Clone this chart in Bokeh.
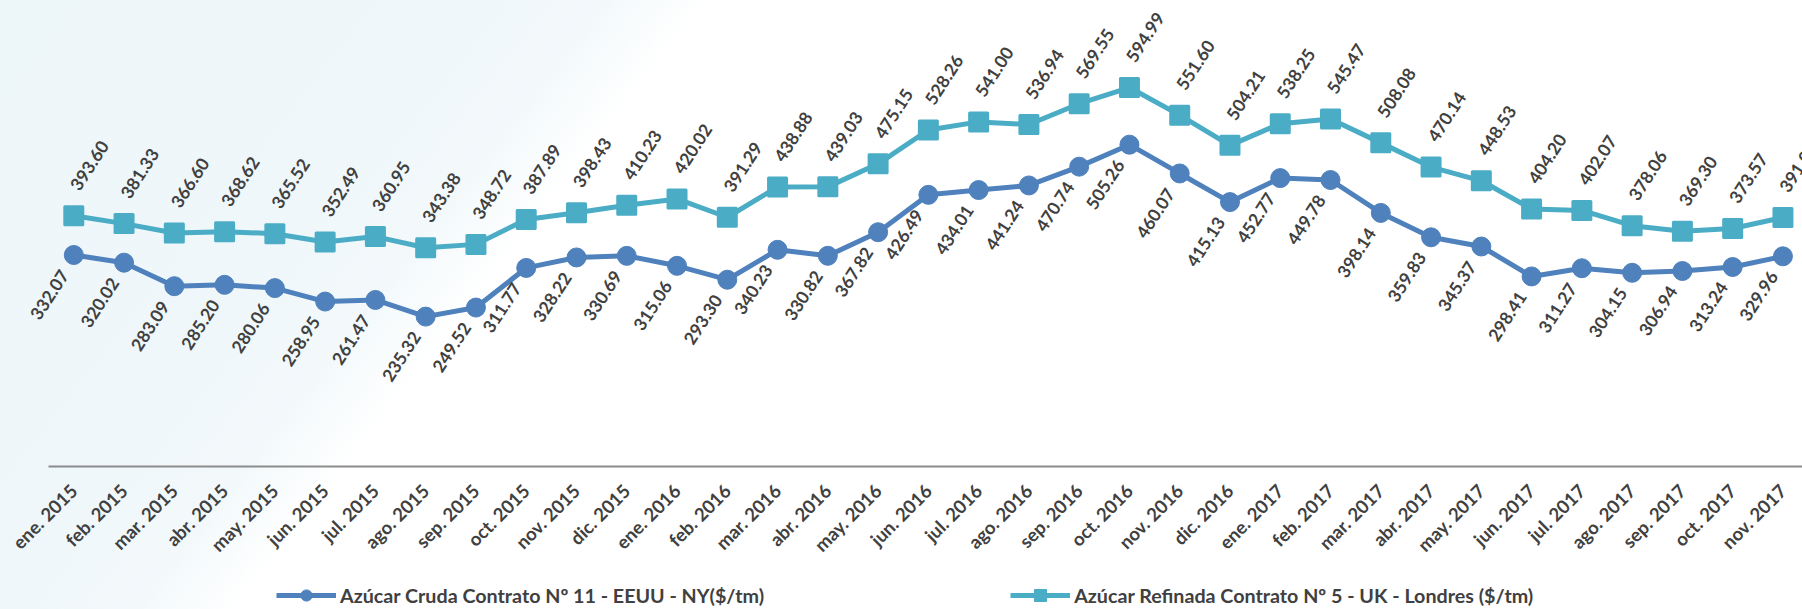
import math
from bokeh.plotting import figure
from bokeh.layouts import column
from bokeh.models import Range1d, FixedTicker, Legend, LegendItem, ColumnDataSource
from bokeh.core.properties import value
from bokeh.embed import file_html
from bokeh.resources import INLINE

months = ["ene. 2015", "feb. 2015", "mar. 2015", "abr. 2015", "may. 2015", "jun. 2015",
          "jul. 2015", "ago. 2015", "sep. 2015", "oct. 2015", "nov. 2015", "dic. 2015",
          "ene. 2016", "feb. 2016", "mar. 2016", "abr. 2016", "may. 2016", "jun. 2016",
          "jul. 2016", "ago. 2016", "sep. 2016", "oct. 2016", "nov. 2016", "dic. 2016",
          "ene. 2017", "feb. 2017", "mar. 2017", "abr. 2017", "may. 2017", "jun. 2017",
          "jul. 2017", "ago. 2017", "sep. 2017", "oct. 2017", "nov. 2017"]

cruda = [332.07, 320.02, 283.09, 285.20, 280.06, 258.95, 261.47, 235.32, 249.52, 311.77,
         328.22, 330.69, 315.06, 293.30, 340.23, 330.82, 367.82, 426.49, 434.01, 441.24,
         470.74, 505.26, 460.07, 415.13, 452.77, 449.78, 398.14, 359.83, 345.37, 298.41,
         311.27, 304.15, 306.94, 313.24, 329.96]

refinada = [393.60, 381.33, 366.60, 368.62, 365.52, 352.49, 360.95, 343.38, 348.72, 387.89,
            398.43, 410.23, 420.02, 391.29, 438.88, 439.03, 475.15, 528.26, 541.00, 536.94,
            569.55, 594.99, 551.60, 504.21, 538.25, 545.47, 508.08, 470.14, 448.53, 404.20,
            402.07, 378.06, 369.30, 373.57, 391.03]

name_cruda = "Azúcar Cruda Contrato Nº 11 - EEUU - NY($/tm)"
name_refinada = "Azúcar Refinada Contrato Nº 5 - UK - Londres ($/tm)"

C_CRUDA = "#4F81BD"
C_REF = "#4BACC6"
TXT = "#404040"
FONT = "Lato"

# plot geometry
W = 1802
FRAME_H = 466
X0, X1 = -1.458, 34.389
Y1 = 731.6
PX_X = W / (X1 - X0)       # pixels per category
PX_Y = FRAME_H / Y1        # pixels per $/tm

idx = list(range(len(months)))

# label anchors: data position shifted by a fixed pixel distance
r_lx = [i + 16 / PX_X for i in idx]
r_ly = [v + 50 / PX_Y for v in refinada]
c_lx = [i - 24 / PX_X for i in idx]
c_ly = [v - 40 / PX_Y for v in cruda]

src_c = ColumnDataSource(dict(x=idx, y=cruda, lx=c_lx, ly=c_ly, t=[f"{v:.2f}" for v in cruda]))
src_r = ColumnDataSource(dict(x=idx, y=refinada, lx=r_lx, ly=r_ly, t=[f"{v:.2f}" for v in refinada]))

# ---- main chart ----
p = figure(width=W, height=570, output_backend="svg", toolbar_location=None,
           x_range=Range1d(X0, X1), y_range=Range1d(0, Y1),
           min_border_left=0, min_border_right=0, min_border_top=0, min_border_bottom=570 - FRAME_H)
p.outline_line_color = None
p.xgrid.grid_line_color = None
p.ygrid.grid_line_color = None
p.yaxis.visible = False
p.background_fill_alpha = 0
p.border_fill_alpha = 0

ax = p.xaxis[0]
ax.bounds = (-0.497, X1)
ax.ticker = FixedTicker(ticks=idx)
ax.major_label_overrides = {i: m for i, m in enumerate(months)}
ax.major_tick_line_color = None
ax.minor_tick_line_color = None
ax.major_tick_out = 0
ax.major_tick_in = 0
ax.minor_tick_out = 0
ax.axis_line_color = "#8c8c8c"
ax.axis_line_width = 2
ax.major_label_orientation = math.pi / 4
ax.major_label_text_font = FONT
ax.major_label_text_font_style = "bold"
ax.major_label_text_font_size = "18.5px"
ax.major_label_text_color = TXT
ax.major_label_standoff = 21

lc = p.line("x", "y", source=src_c, line_width=5, line_color=C_CRUDA)
sc = p.scatter("x", "y", source=src_c, marker="circle", size=19, fill_color=C_CRUDA, line_color=C_CRUDA)
lr = p.line("x", "y", source=src_r, line_width=5, line_color=C_REF)
sr = p.scatter("x", "y", source=src_r, marker="square", size=18, fill_color=C_REF, line_color=C_REF,
               line_width=3, line_join="round")

ang = math.radians(57)
for src in (src_r, src_c):
    p.text("lx", "ly", text="t", source=src, angle=ang, text_align="center", text_baseline="middle",
           text_font=value(FONT), text_font_style="bold", text_font_size="17.5px", text_color=TXT)

# ---- legend strip ----
q = figure(width=W, height=39, output_backend="svg", toolbar_location=None,
           x_axis_type=None, y_axis_type=None,
           x_range=Range1d(0, 1), y_range=Range1d(0, 1),
           min_border_left=0, min_border_right=0, min_border_top=0, min_border_bottom=0)
q.outline_line_color = None
q.xgrid.grid_line_color = None
q.ygrid.grid_line_color = None
q.background_fill_alpha = 0
q.border_fill_alpha = 0
qlc = q.line(x=[-10, -9], y=[-10, -10], line_width=5, line_color=C_CRUDA)
qsc = q.scatter(x=[-10], y=[-10], marker="circle", size=13, fill_color=C_CRUDA, line_color=C_CRUDA)
qlr = q.line(x=[-10, -9], y=[-10, -10], line_width=5, line_color=C_REF)
qsr = q.scatter(x=[-10], y=[-10], marker="square", size=12, fill_color=C_REF, line_color=C_REF,
                line_width=2, line_join="round")

legend = Legend(items=[LegendItem(label=name_cruda, renderers=[qlc, qsc]),
                       LegendItem(label=name_refinada, renderers=[qlr, qsr])],
                location=(276, 0), orientation="horizontal", spacing=246,
                glyph_width=60, glyph_height=28, label_standoff=4,
                padding=0, margin=0, border_line_color=None, background_fill_alpha=0,
                label_text_font=FONT, label_text_font_style="bold", label_text_font_size="19.7px",
                label_text_color=TXT)
q.add_layout(legend)

layout = column(p, q, spacing=0)
layout.styles = {"background": "linear-gradient(127.7deg, #edf6f9 0px, #eff7fa 360px, #f3f9fb 480px, #ffffff 560px, #ffffff 100%)"}

open("out.html", "w").write(file_html(layout, INLINE))
